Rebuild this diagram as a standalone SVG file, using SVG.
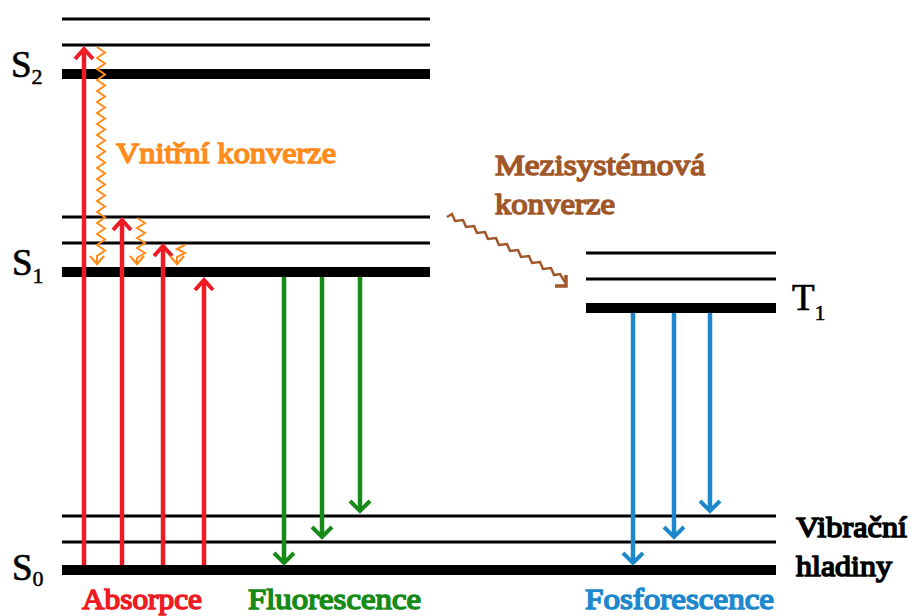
<svg xmlns="http://www.w3.org/2000/svg" width="912" height="616" viewBox="0 0 912 616">
  <style>
    .thin { stroke: #000; stroke-width: 3; }
    .thick { stroke: #000; stroke-width: 10; }
    .sym { font-size: 37px; fill: #000; stroke: #000; stroke-width: 0.7; }
    .sub { font-size: 22px; stroke-width: 0.5; }
    /* heavy serif captions: regular face thickened with a same-colour outline */
    .lab { font-size: 30px; stroke-width: 1.6; stroke-linejoin: round; }
    .abs { stroke: #ed1c24; stroke-width: 4.5; fill: none; marker-end: url(#hRed); }
    .flu { stroke: #178a17; stroke-width: 4.5; fill: none; marker-end: url(#hGreen); }
    .fos { stroke: #1e88cc; stroke-width: 4.5; fill: none; marker-end: url(#hBlue); }
    .ic  { stroke: #ff8c1a; stroke-width: 2; fill: none; stroke-linejoin: miter; marker-end: url(#hOrange); }
    .isc { stroke: #a0582a; stroke-width: 2.5; fill: none; }
  </style>
  <defs>
    <marker id="hRed" markerUnits="userSpaceOnUse" markerWidth="30" markerHeight="30" refX="12" refY="12" orient="auto" overflow="visible">
      <path d="M2,3 L12,12 L2,21" fill="none" stroke="#ed1c24" stroke-width="4"/>
    </marker>
    <marker id="hGreen" markerUnits="userSpaceOnUse" markerWidth="30" markerHeight="30" refX="12" refY="12" orient="auto" overflow="visible">
      <path d="M2,2 L12,12 L2,22" fill="none" stroke="#178a17" stroke-width="4"/>
    </marker>
    <marker id="hBlue" markerUnits="userSpaceOnUse" markerWidth="30" markerHeight="30" refX="12" refY="12" orient="auto" overflow="visible">
      <path d="M2,2 L12,12 L2,22" fill="none" stroke="#1e88cc" stroke-width="4"/>
    </marker>
    <marker id="hOrange" markerUnits="userSpaceOnUse" markerWidth="20" markerHeight="20" refX="10" refY="10" orient="auto" overflow="visible">
      <path d="M2,3 L10,10 L2,17" fill="none" stroke="#ff8c1a" stroke-width="2.2"/>
    </marker>
  </defs>

  <rect width="912" height="616" fill="#fff"/>

  <g font-family="'Liberation Serif', 'Times New Roman', Times, serif">
    <!-- second excited singlet state with vibrational sublevels -->
    <g id="S2">
      <line x1="62" y1="19" x2="430" y2="19" class="thin"/>
      <line x1="62" y1="45" x2="430" y2="45" class="thin"/>
      <line x1="62" y1="74" x2="430" y2="74" class="thick"/>
      <text x="11" y="77" class="sym">S<tspan class="sub" dy="7">2</tspan></text>
    </g>

    <!-- first excited singlet state -->
    <g id="S1">
      <line x1="62" y1="217" x2="430" y2="217" class="thin"/>
      <line x1="62" y1="243" x2="430" y2="243" class="thin"/>
      <line x1="62" y1="272" x2="430" y2="272" class="thick"/>
      <text x="12" y="275" class="sym">S<tspan class="sub" dy="8">1</tspan></text>
    </g>

    <!-- triplet state -->
    <g id="T1">
      <line x1="586" y1="253" x2="776" y2="253" class="thin"/>
      <line x1="586" y1="279" x2="776" y2="279" class="thin"/>
      <line x1="586" y1="308" x2="776" y2="308" class="thick"/>
      <text x="792" y="310" class="sym">T<tspan class="sub" dy="10">1</tspan></text>
    </g>

    <!-- ground state -->
    <g id="S0">
      <line x1="62" y1="516" x2="776" y2="516" class="thin"/>
      <line x1="62" y1="542" x2="776" y2="542" class="thin"/>
      <line x1="62" y1="570" x2="776" y2="570" class="thick"/>
      <text x="12" y="580" class="sym">S<tspan class="sub" dy="6">0</tspan></text>
    </g>

    <!-- transitions -->
    <g id="connectors">
      <!-- absorption -->
      <path class="abs" d="M84,565 V49"/>
      <path class="abs" d="M122,565 V220"/>
      <path class="abs" d="M163,565 V246"/>
      <path class="abs" d="M204,565 V280"/>
      <!-- fluorescence -->
      <path class="flu" d="M284,277 V563"/>
      <path class="flu" d="M322,277 V537"/>
      <path class="flu" d="M360,277 V511"/>
      <!-- phosphorescence -->
      <path class="fos" d="M633,313 V563"/>
      <path class="fos" d="M674,313 V537"/>
      <path class="fos" d="M710,313 V511"/>
      <!-- internal conversion -->
      <path class="ic" d="M97,47 l8,5.5 l-8,5.5 l8,5.5 l-8,5.5 l8,5.5 l-8,5.5 l8,5.5 l-8,5.5 l8,5.5 l-8,5.5 l8,5.5 l-8,5.5 l8,5.5 l-8,5.5 l8,5.5 l-8,5.5 l8,5.5 l-8,5.5 l8,5.5 l-8,5.5 l8,5.5 l-8,5.5 l8,5.5 l-8,5.5 l8,5.5 l-8,5.5 l8,5.5 l-8,5.5 l8,5.5 l-8,5.5 l8,5.5 l-8,5.5 l8,5.5 l-8,5.5 l8,5.5 l-8,5.5 l8,5.5 l-8,5.5 L97,264"/>
      <path class="ic" d="M137,218 l8,5 l-8,5 l8,5 l-8,5 l8,5 l-8,5 l8,5 l-8,5 L137,264"/>
      <path class="ic" d="M185,245 l-8,4 l8,4 l-8,4 L177,264"/>
      <!-- intersystem crossing -->
      <path class="isc" d="M447,217 l5,-3 l3,7 l8,-1 l3,7 l8,-1 l3,7 l8,-1 l3,7 l8,-1 l3,7 l8,-1 l3,7 l8,-1 l3,7 l8,-1 l3,7 l8,-1 l3,7 l8,-1 l3,7 l6,-1 l5,8"/>
      <path d="M555,286 H566 V275" fill="none" stroke="#a0582a" stroke-width="3.5"/>
    </g>

    <!-- process labels -->
    <g id="labels">
      <text x="116" y="163" class="lab" fill="#ff8c1a" stroke="#ff8c1a" textLength="220" lengthAdjust="spacingAndGlyphs">Vnitřní konverze</text>
      <text x="495" y="175" class="lab" fill="#a0582a" stroke="#a0582a" textLength="210" lengthAdjust="spacingAndGlyphs">Mezisystémová</text>
      <text x="495" y="214" class="lab" fill="#a0582a" stroke="#a0582a" textLength="120" lengthAdjust="spacingAndGlyphs">konverze</text>
      <text x="796" y="537" class="lab" fill="#000" stroke="#000" textLength="111" lengthAdjust="spacingAndGlyphs">Vibrační</text>
      <text x="796" y="576" class="lab" fill="#000" stroke="#000" textLength="96" lengthAdjust="spacingAndGlyphs">hladiny</text>
      <text x="82" y="609" class="lab" fill="#ed1c24" stroke="#ed1c24" textLength="120" lengthAdjust="spacingAndGlyphs">Absorpce</text>
      <text x="248" y="609" class="lab" fill="#178a17" stroke="#178a17" textLength="173" lengthAdjust="spacingAndGlyphs">Fluorescence</text>
      <text x="585" y="609" class="lab" fill="#1e88cc" stroke="#1e88cc" textLength="189" lengthAdjust="spacingAndGlyphs">Fosforescence</text>
    </g>
  </g>
</svg>
